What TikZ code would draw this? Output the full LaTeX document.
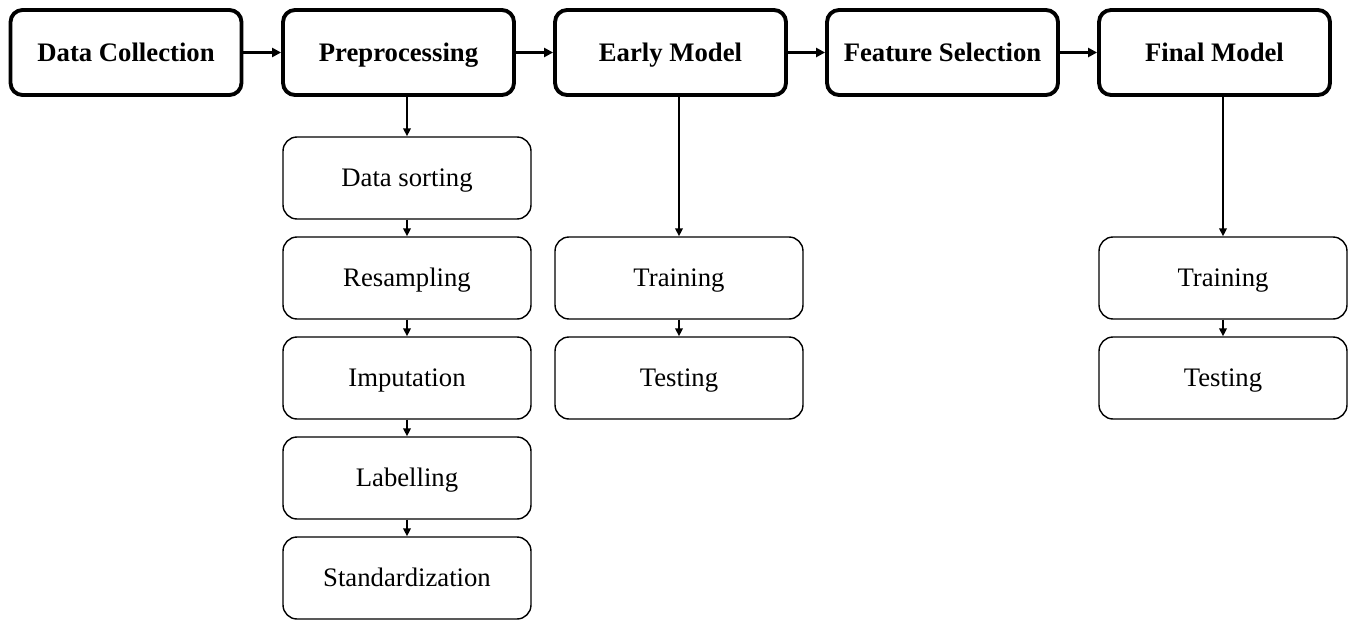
\documentclass[tikz,border=0pt]{standalone}
\usepackage{fontspec}
\setmainfont{Liberation Serif}
\usetikzlibrary{arrows.meta, positioning}

\begin{document}
\begin{tikzpicture}[x=0.02cm, y=-0.02cm,
    stage/.style={draw, line width=2.2pt, rounded corners=2.4mm, minimum width=4.62cm, minimum height=1.7cm, inner sep=0pt, text height=10pt, text depth=0pt, font=\fontsize{15.2}{18}\selectfont\bfseries},
    substep/.style={draw, line width=0.8pt, rounded corners=2.8mm, minimum width=4.96cm, minimum height=1.64cm, inner sep=0pt, text height=10pt, text depth=0pt, font=\fontsize{15.2}{18}\selectfont},
    flow/.style={line width=1.1pt, -{Triangle[length=1.6mm,width=1.5mm]}},
    mainflow/.style={line width=1.7pt, -{Triangle[length=1.8mm,width=1.8mm]}}]
    \useasboundingbox (0,0) rectangle (1352,619);
    % top row
    \node[stage] (dc) at (126,52.5) {Data Collection};
    \node[stage] (pre) at (398.5,52.5) {Preprocessing};
    \node[stage] (early) at (670.5,52.5) {Early Model};
    \node[stage] (fs) at (942.5,52.5) {Feature Selection};
    \node[stage] (final) at (1214.5,52.5) {Final Model};
    \draw[mainflow] (dc) -- (pre);
    \draw[mainflow] (pre) -- (early);
    \draw[mainflow] (early) -- (fs);
    \draw[mainflow] (fs) -- (final);
    % preprocessing
    \node[substep] (sort) at (407,178) {Data sorting};
    \node[substep] (resamp) at (407,278) {Resampling};
    \node[substep] (imput) at (407,378) {Imputation};
    \node[substep] (label) at (407,478) {Labelling};
    \node[substep] (std) at (407,578) {Standardization};
    \draw[flow] (pre.south -| sort.north) -- (sort.north);
    \draw[flow] (sort) -- (resamp);
    \draw[flow] (resamp) -- (imput);
    \draw[flow] (imput) -- (label);
    \draw[flow] (label) -- (std);
    % early model
    \node[substep] (etrain) at (679,278) {Training};
    \node[substep] (etest) at (679,378) {Testing};
    \draw[flow] (early.south -| etrain.north) -- (etrain.north);
    \draw[flow] (etrain) -- (etest);
    % final model
    \node[substep] (ftrain) at (1223,278) {Training};
    \node[substep] (ftest) at (1223,378) {Testing};
    \draw[flow] (final.south -| ftrain.north) -- (ftrain.north);
    \draw[flow] (ftrain) -- (ftest);
\end{tikzpicture}
\end{document}
